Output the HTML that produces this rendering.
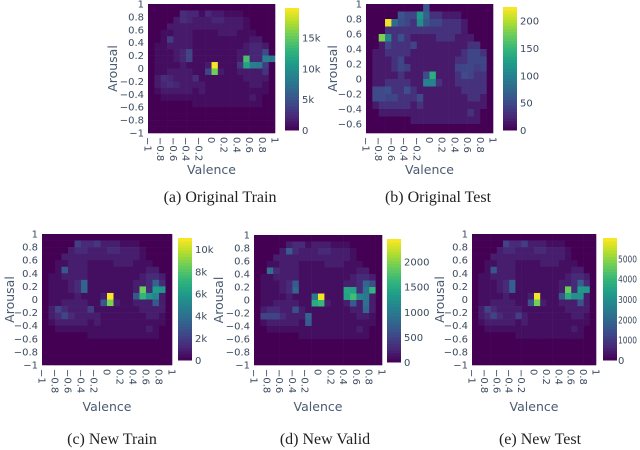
<!DOCTYPE html>
<html><head><meta charset="utf-8">
<style>
html,body{margin:0;padding:0;background:#fff;}
svg{display:block;}
.cap{font-family:"Liberation Serif",serif;font-size:16px;fill:#222;}
.tk{font-family:"DejaVu Sans","Liberation Sans",sans-serif;font-size:10px;fill:#3b4a5e;}
.ax{font-family:"DejaVu Sans","Liberation Sans",sans-serif;font-size:12.5px;fill:#4a5a70;}
</style></head>
<body>
<svg id="fig" width="640" height="450" viewBox="0 0 640 450"></svg>
<script>
// background pattern levels (rows top=arousal 1 → bottom), 20x20
const bgRows = [
"00000000000000000000",
"00000233122211100000",
"00002332223322210000",
"00022222222222210000",
"00112221111222111000",
"00132221111111112200",
"01122221111111123320",
"01112311111111223330",
"01112311111111233320",
"01111211121111222220",
"01122221112211222220",
"02332222111111122220",
"02333222211111112210",
"01222221211111111110",
"00111111111111112100",
"00000001111111111100",
"00000000000000000000",
"00000000000000000000",
"00000000000000000000",
"00000000000000000000"];
// sparse hot cells per panel: [col, row, value]
const cellsA = [[10,9,19500],[10,10,15500],[9,10,4000],[15,8,14000],[15,9,11500],[16,9,8500],[17,9,8000],[18,8,8500],[19,8,8000],[18,7,4500],[18,9,3500],[18,10,3000],[6,7,4000],[6,8,4000],[3,5,3500],[2,11,2500],[3,12,2600],[5,1,2500],[5,2,2500],[9,1,2200],[14,9,3000],[7,11,2500]];
const cellsB = [[3,2,220],[2,4,180],[3,4,100],[4,2,80],[8,1,120],[8,2,110],[9,0,60],[9,1,70],[9,2,60],[10,9,140],[9,10,100],[10,10,100],[9,9,50],[5,1,60],[5,2,55],[5,4,55],[1,11,50],[2,11,50],[3,11,55],[1,12,50],[2,12,50],[3,12,45],[6,11,55],[8,12,50],[14,8,45],[15,9,50],[16,9,45],[17,8,40],[18,8,45],[6,8,40],[7,5,45]];
const cellsC = [[10,9,11000],[10,10,8800],[9,10,3000],[15,8,8500],[15,9,7200],[16,9,5600],[17,9,5000],[17,8,6000],[18,8,5800],[17,7,3500],[17,10,3000],[6,7,3500],[6,8,3500],[3,5,3000],[2,11,2200],[3,12,2300],[5,1,2000],[8,1,1800],[14,9,3000],[7,11,2000]];
const cellsD = [[10,9,2400],[9,9,1000],[9,10,1500],[10,10,1650],[15,8,1400],[15,9,1700],[14,8,1450],[14,9,1400],[16,9,1100],[17,9,1000],[18,8,1600],[17,8,900],[17,7,800],[18,7,600],[17,10,900],[17,11,800],[15,10,700],[6,8,800],[6,7,700],[2,5,900],[5,2,700],[8,12,800],[8,13,700],[6,11,600],[1,12,500],[2,12,500],[3,12,500]];
const cellsE = [[10,9,5900],[10,10,4700],[9,10,1500],[15,8,4600],[15,9,3700],[16,9,3000],[17,9,3000],[17,8,3200],[18,8,3200],[17,7,1800],[17,10,1500],[6,7,1800],[6,8,1800],[3,5,1600],[2,11,1200],[3,12,1200],[5,1,1200],[8,1,1100],[14,9,1600],[7,12,1100]];
const maxA=19800, maxB=225, maxC=11000, maxD=2450, maxE=6000;
const cbTicksA=[0,5000,10000,15000], cbLabelsA=["0","5k","10k","15k"];
const cbTicksB=[0,50,100,150,200], cbLabelsB=["0","50","100","150","200"];
const cbTicksC=[0,2000,4000,6000,8000,10000], cbLabelsC=["0","2k","4k","6k","8k","10k"];
const cbTicksD=[0,500,1000,1500,2000], cbLabelsD=["0","500","1000","1500","2000"];
const cbTicksE=[0,1000,2000,3000,4000,5000], cbLabelsE=["0","1000","2000","3000","4000","5000"];
const xTicks=[-1,-0.8,-0.6,-0.4,-0.2,0,0.2,0.4,0.6,0.8,1];
const yTicksFull=[1,0.8,0.6,0.4,0.2,0,-0.2,-0.4,-0.6,-0.8,-1];
const yTicksB=[1,0.8,0.6,0.4,0.2,0,-0.2,-0.4,-0.6];

const NS="http://www.w3.org/2000/svg";
const svg=document.getElementById('fig');
function mk(tag,attrs,parent){const e=document.createElementNS(NS,tag);for(const k in attrs)e.setAttribute(k,attrs[k]);(parent||svg).appendChild(e);return e;}
const vir=[[68,1,84],[72,40,120],[62,74,137],[49,104,142],[38,130,142],[31,158,137],[53,183,121],[109,205,89],[180,222,44],[253,231,37]];
function viridis(t){t=Math.max(0,Math.min(1,t))*(vir.length-1);const i=Math.min(vir.length-2,Math.floor(t));const f=t-i;const a=vir[i],b=vir[i+1];return `rgb(${a.map((v,k)=>Math.round(v+(b[k]-v)*f)).join(',')})`;}
function fmt(v){return (v<0?'\u2212':'')+String(Math.abs(v));}

function panel(id,p,cells,max,cbT,cbL,yTicks,ymin){
  const g=mk('g',{});
  
  
  const xs=v=>p.x+(v+1)/2*p.w;
  const ys=v=>p.y+(1-v)/(1-ymin)*p.h;
  const nRows=Math.round((1-ymin)/0.1+0.49);
  const grid=[];
  for(let r=0;r<20;r++){grid.push([]);for(let c=0;c<20;c++)grid[r].push(+bgRows[r][c]*max*p.bg);}
  cells.forEach(([c,r,v])=>{grid[r][c]=v;});
  for(let r=0;r<nRows;r++)for(let c=0;c<20;c++){
    const x0=xs(-1+c*0.1),x1=xs(-1+(c+1)*0.1);
    const y0=ys(1-r*0.1),y1=ys(Math.max(ymin,1-(r+1)*0.1));
    const rc=mk('rect',{x:x0,y:y0,width:x1-x0+0.3,height:y1-y0+0.3,fill:viridis(grid[r][c]/max)},g);
    
    
  }
  yTicks.forEach(v=>{const t=mk('text',{x:p.x-4,y:ys(v)+3.5,'text-anchor':'end',class:'tk'},g);t.textContent=fmt(v);
    });
  xTicks.forEach(v=>{const X=xs(v),Y=p.y+p.h+4;const t=mk('text',{x:X,y:Y,transform:`rotate(90 ${X} ${Y})`,class:'tk',dy:'3.5'},g);t.textContent=fmt(v);
    });
  const cb=mk('g',{},g);
  
  
  const n=40;
  for(let i=0;i<n;i++){mk('rect',{x:p.cbx,y:p.cby+p.cbh*(1-(i+1)/n),width:14,height:p.cbh/n+0.5,fill:viridis((i+0.5)/n)},cb);}
  cbT.forEach((v,i)=>{const at={x:p.cbx+p.cbo,y:p.cby+p.cbh*(1-v/max)+4,class:'tk','font-size':p.cbf};
    if(p.cbtl&&cbL[i].length>=4){at.textLength=p.cbtl;at.lengthAdjust='spacingAndGlyphs';}
    const t=mk('text',at,cb);t.textContent=cbL[i];
    });
  const yl=mk('text',{x:p.ylx,y:p.y+p.h/2,transform:`rotate(-90 ${p.ylx} ${p.y+p.h/2})`,'text-anchor':'middle',class:'ax'},g);
  yl.textContent='Arousal';
  const xl=mk('text',{x:p.x+p.w/2,y:p.xly,'text-anchor':'middle',class:'ax'},g);
  xl.textContent='Valence';
  const cp=mk('text',{x:p.capx,y:p.capy,'text-anchor':'middle',class:'cap'},g);
  cp.textContent=p.cap;
}
panel('a',{x:148,y:4,w:127,h:129,cbx:285,cby:8,cbh:122,ylx:117,xly:174,capx:220,capy:202,cap:'(a) Original Train',bg:0.035,cbf:11,cbo:17},cellsA,maxA,cbTicksA,cbLabelsA,yTicksFull,-1);
panel('b',{x:366,y:4,w:127,h:129,cbx:503,cby:7,cbh:123,ylx:337,xly:174,capx:438,capy:202,cap:'(b) Original Test',bg:0.07,cbf:11,cbo:17},cellsB,maxB,cbTicksB,cbLabelsB,yTicksB,-0.72);
panel('c',{x:42,y:234,w:130,h:131,cbx:178,cby:238,cbh:122,ylx:14,xly:411,capx:112,capy:444,cap:'(c) New Train',bg:0.04,cbf:11,cbo:17},cellsC,maxC,cbTicksC,cbLabelsC,yTicksFull,-1);
panel('d',{x:254,y:235,w:128,h:130,cbx:387,cby:239,cbh:123,ylx:223,xly:411,capx:325,capy:444,cap:'(d) New Valid',bg:0.04,cbf:11,cbo:17},cellsD,maxD,cbTicksD,cbLabelsD,yTicksFull,-1);
panel('e',{x:472,y:234,w:124,h:131,cbx:603,cby:238,cbh:122,ylx:444,xly:411,capx:540,capy:444,cap:'(e) New Test',bg:0.04,cbf:10,cbo:15,cbtl:19},cellsE,maxE,cbTicksE,cbLabelsE,yTicksFull,-1);
</script>
</body></html>
